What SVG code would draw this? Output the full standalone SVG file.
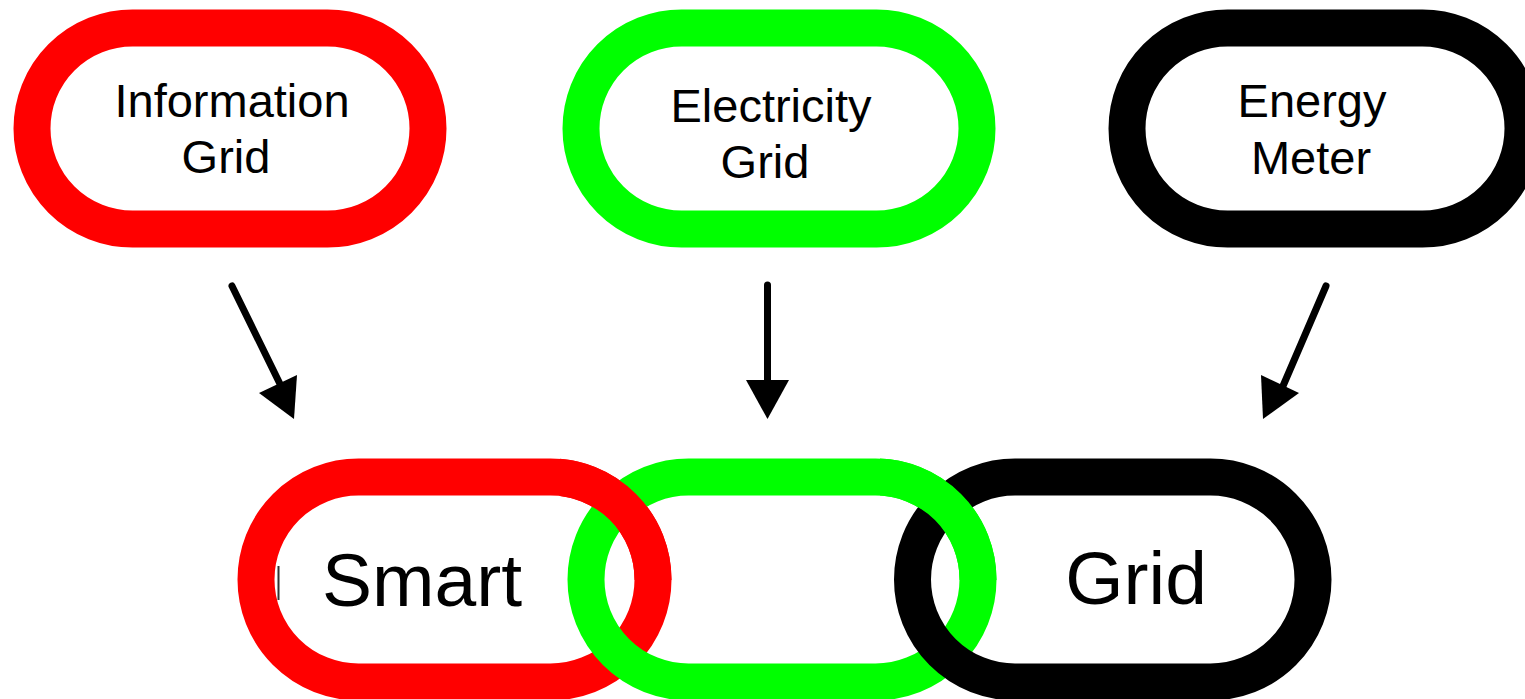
<svg xmlns="http://www.w3.org/2000/svg" width="1525" height="699" viewBox="0 0 1525 699">
<style>
.ring{fill:#fff;stroke-width:37}
.red{stroke:#ff0000}
.green{stroke:#00ff00}
.black{stroke:#000}
.t{font-family:"Liberation Sans",Arial,sans-serif;fill:#000;text-anchor:middle}
.s{font-size:47px}
.b{font-size:75px}
.arr{stroke:#000;stroke-width:7;stroke-linecap:round;fill:none}
.head{fill:#000}
</style>
<defs>
<clipPath id="c1"><rect x="560" y="440" width="140" height="140"/></clipPath>
<clipPath id="c2"><rect x="880" y="440" width="140" height="140"/></clipPath>
</defs>
<rect width="1525" height="699" fill="#fff"/>
<g id="info">
<rect class="ring red" x="32" y="28" width="396" height="201" rx="100.5"/>
<text class="t s" x="232" y="117">Information</text>
<text class="t s" x="226" y="173">Grid</text>
</g>
<g id="elec">
<rect class="ring green" x="581" y="28" width="396" height="201" rx="100.5"/>
<text class="t s" x="771" y="122">Electricity</text>
<text class="t s" x="765" y="178">Grid</text>
</g>
<g id="meter">
<rect class="ring black" x="1127" y="28" width="396" height="201" rx="100.5"/>
<text class="t s" x="1312" y="117">Energy</text>
<text class="t s" x="1311" y="174">Meter</text>
</g>
<g id="connectors">
<line class="arr" x1="232" y1="286" x2="281" y2="386"/>
<polygon class="head" points="259,393 297,375 294,419"/>
<line class="arr" x1="767.5" y1="285" x2="767.5" y2="385"/>
<polygon class="head" points="746,380 789,380 767.5,419"/>
<line class="arr" x1="1326" y1="286" x2="1283" y2="386"/>
<polygon class="head" points="1261,375 1299,393 1263,419"/>
</g>
<g id="link-smart">
<rect class="ring red" x="256" y="477" width="397" height="205" rx="102.5"/>
</g>
<g id="link-middle">
<rect class="ring green" x="586" y="477" width="392" height="205" rx="102.5" fill="none" style="fill:none"/>
</g>
<g id="link-grid">
<rect class="ring black" x="912.5" y="477" width="400.5" height="205" rx="102.5" style="fill:none"/>
</g>
<g id="overlaps">
<rect class="ring red" x="256" y="477" width="397" height="205" rx="102.5" style="fill:none" clip-path="url(#c1)"/>
<rect class="ring green" x="586" y="477" width="392" height="205" rx="102.5" style="fill:none" clip-path="url(#c2)"/>
</g>
<g id="labels">
<text class="t b" x="422" y="606">Smart</text>
<text class="t b" x="1136" y="604">Grid</text>
<rect x="277.5" y="566" width="2" height="34" fill="#333"/>
</g>
</svg>
